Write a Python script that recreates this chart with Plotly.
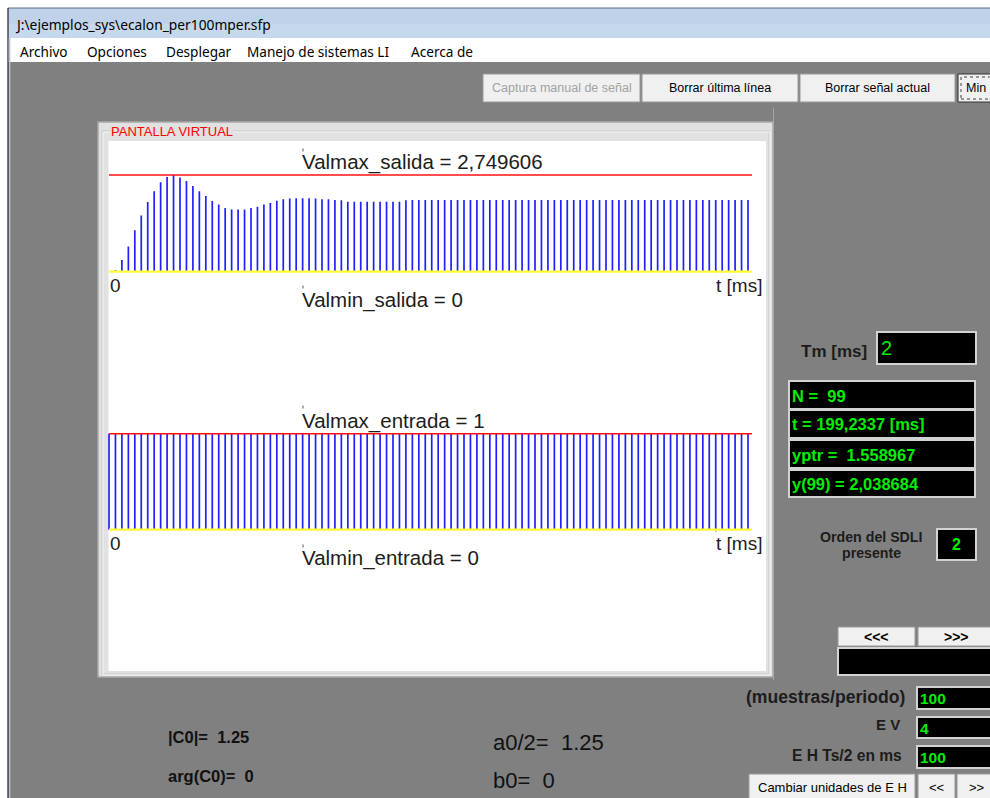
import plotly.graph_objects as go

W, H = 990, 798

# ---- data -------------------------------------------------------------
muestras = list(range(100))  # sample index n

salida = [
    0.0, 0.05, 0.33, 0.72, 1.18, 1.60, 1.98, 2.29, 2.54, 2.69,
    2.749606, 2.68, 2.58, 2.44, 2.29, 2.15, 2.01, 1.91, 1.81, 1.77,
    1.77, 1.77, 1.81, 1.85, 1.91, 1.95, 2.02, 2.06, 2.08, 2.09,
    2.09, 2.09, 2.08, 2.06, 2.06, 2.04, 2.03, 1.99, 1.99, 1.99,
    1.99, 1.99, 1.99, 1.99, 1.99, 1.99, 2.03, 2.04, 2.04, 2.04,
    2.04, 2.04, 2.04, 2.04, 2.04, 2.04, 2.04, 2.04, 2.04, 2.04,
    2.04, 2.04, 2.04, 2.04, 2.04, 2.04, 2.04, 2.04, 2.04, 2.04,
    2.04, 2.04, 2.04, 2.04, 2.04, 2.04, 2.04, 2.04, 2.04, 2.04,
    2.04, 2.04, 2.04, 2.04, 2.04, 2.04, 2.04, 2.04, 2.04, 2.04,
    2.04, 2.04, 2.04, 2.04, 2.04, 2.04, 2.04, 2.04, 2.04, 2.038684,
]

entrada = [
    1, 1, 1, 1, 1, 1, 1, 1, 1, 1,
    1, 1, 1, 1, 1, 1, 1, 1, 1, 1,
    1, 1, 1, 1, 1, 1, 1, 1, 1, 1,
    1, 1, 1, 1, 1, 1, 1, 1, 1, 1,
    1, 1, 1, 1, 1, 1, 1, 1, 1, 1,
    1, 1, 1, 1, 1, 1, 1, 1, 1, 1,
    1, 1, 1, 1, 1, 1, 1, 1, 1, 1,
    1, 1, 1, 1, 1, 1, 1, 1, 1, 1,
    1, 1, 1, 1, 1, 1, 1, 1, 1, 1,
    1, 1, 1, 1, 1, 1, 1, 1, 1, 1,
]

tm_ms = "2"
t_cursor = "199,2337"
yptr = "1.558967"
orden = "2"
muestras_periodo = "100"
ev = "4"
eh = "100"
c0_abs = "1.25"
c0_arg = "0"
a0_half = "1.25"
b0 = "0"

# ---- helpers ----------------------------------------------------------
SANS = "Liberation Sans, Arial, sans-serif"
UI = "Noto Sans, Open Sans, sans-serif"
GREEN = "#00ee00"
DARK = "#1c1c1c"
NB = "\u00a0"

shapes, annotations = [], []


def px(x):
    return x / W


def py(y):
    return 1 - y / H


def rect(x0, y0, x1, y1, fill, line=None, lw=1, dash="solid"):
    shapes.append(dict(
        type="rect", xref="paper", yref="paper", layer="below",
        x0=px(x0), x1=px(x1), y0=py(y1), y1=py(y0), fillcolor=fill,
        line=dict(color=line if line else "rgba(0,0,0,0)",
                  width=lw if line else 0, dash=dash)))


def seg(x0, y0, x1, y1, color, lw=1):
    shapes.append(dict(
        type="line", xref="paper", yref="paper", layer="below",
        x0=px(x0), x1=px(x1), y0=py(y0), y1=py(y1),
        line=dict(color=color, width=lw)))


def text(x, y, s, size=12, color=DARK, xa="left", family=SANS, bold=False, bg=None):
    a = dict(xref="paper", yref="paper", x=px(x), y=py(y), text=s,
             showarrow=False, xanchor=xa, yanchor="middle", borderpad=0,
             font=dict(family=family, size=size, color=color,
                       weight="bold" if bold else "normal"))
    if bg:
        a["bgcolor"] = bg
    annotations.append(a)


def button(x0, y0, x1, y1, label, size=12.5, color="#000000", bold=False):
    rect(x0, y0, x1, y1, "#f0f0f0", "#9a9a9a", 1)
    text((x0 + x1) / 2, (y0 + y1) / 2, label, size=size, color=color, xa="center", bold=bold)


def black_box(x0, y0, x1, y1):
    rect(x0, y0, x1, y1, "#000000", "#d2d2d2", 2)


# ---- window frame -----------------------------------------------------
rect(8, 62, 992, 800, "#808080")
rect(8, 8, 992, 24, "#bfd2ea")
rect(8, 24, 992, 38, "#c6d8ee")
rect(9, 38, 992, 62, "#ffffff")
seg(8, 8, 992, 8, "#5a6a80", 1)
seg(8, 8, 8, 798, "#202020", 1.2)
seg(9.6, 38, 9.6, 798, "#b4c4d8", 1.5)
text(14, 24, r"J:\ejemplos_sys\ecalon_per100mper.sfp", size=13.8, color="#000", family=UI)
for lbl, x in [("Archivo", 19), ("Opciones", 86), ("Desplegar", 165),
               ("Manejo de sistemas LI", 246), ("Acerca de", 410)]:
    text(x, 51, lbl, size=13.6, color="#000", family=UI)

# top buttons
button(483, 74, 640, 102, "Captura manual de señal", color="#a2a2a2")
button(642, 74, 798, 102, "Borrar última línea")
button(800, 74, 955, 102, "Borrar señal actual")
rect(958, 74, 995, 102, "#f0f0f0", "#303030", 1)
rect(961, 77, 995, 99, "rgba(0,0,0,0)", "#404040", 1, dash="dot")
text(965, 88, "Min", size=12.5, color="#000")

# ---- virtual screen panel --------------------------------------------
rect(98, 122, 773, 677, "#e1e1e1", "#a8a8a8", 1.5)
rect(102, 131, 769, 674, "rgba(0,0,0,0)", "#c4c4c4", 1)
rect(103, 132, 770, 675, "rgba(0,0,0,0)", "#f6f6f6", 1)
rect(108.5, 141, 766, 671, "#ffffff")
text(110, 131, "PANTALLA VIRTUAL", size=13, color="#ff0000", bg="#e1e1e1")

# tiny marks on the virtual screen
for (mx, my) in [(303, 150), (303, 287), (303, 407), (303, 546), (716, 271), (716, 530)]:
    rect(mx - 0.5, my - 1.5, mx + 0.5, my + 1.5, "#555555")

# ---- stem plots --------------------------------------------------------
X0_PX, X99_PX, XEND_PX = 109, 748, 752
dx = (X99_PX - X0_PX) / 99.0
x_end = (XEND_PX - X0_PX) / dx
XPAD = 8
x_range = [-XPAD / dx, x_end + XPAD / dx]
x_dom = [px(X0_PX - XPAD), px(XEND_PX + XPAD)]


def y_axis(zero_px, max_px, vmax, pad=6):
    s = (zero_px - max_px) / vmax
    return dict(domain=[py(zero_px + pad), py(max_px - pad)],
                range=[-pad / s, vmax + pad / s])


vmax_sal = max(salida)
vmax_ent = max(entrada)
ya1 = y_axis(271.7, 175.0, vmax_sal)
ya2 = y_axis(529.7, 433.7, vmax_ent)


def stems(xs, ys):
    sx, sy = [], []
    for xv, yv in zip(xs, ys):
        sx += [xv, xv, None]
        sy += [0, yv, None]
    return sx, sy


fig = go.Figure()
for vals, vmax, xa, ya in [(salida, vmax_sal, "x", "y"), (entrada, vmax_ent, "x2", "y2")]:
    sx, sy = stems(muestras, vals)
    fig.add_trace(go.Scatter(x=sx, y=sy, mode="lines", xaxis=xa, yaxis=ya,
                             line=dict(color="#2020ff", width=1.7),
                             hoverinfo="skip", showlegend=False))
    fig.add_trace(go.Scatter(x=[0, x_end], y=[vmax, vmax], mode="lines", xaxis=xa, yaxis=ya,
                             line=dict(color="#ff1010", width=1.4),
                             hoverinfo="skip", showlegend=False))
    fig.add_trace(go.Scatter(x=[0, x_end], y=[0, 0], mode="lines", xaxis=xa, yaxis=ya,
                             line=dict(color="#ffff30", width=2.2),
                             hoverinfo="skip", showlegend=False))


def fmt(v):
    return f"{v:.6f}".rstrip("0").rstrip(".").replace(".", ",")


text(301, 162, f"Valmax_salida = {fmt(vmax_sal)}", size=20.5, color=DARK)
text(109, 285, "0", size=19, color=DARK)
text(763, 285, "t [ms]", size=19, color=DARK, xa="right")
text(301, 300, "Valmin_salida = 0", size=20.5, color=DARK)

text(301, 421, f"Valmax_entrada = {fmt(vmax_ent)}", size=20.5, color=DARK)
text(109, 543, "0", size=19, color=DARK)
text(763, 543, "t [ms]", size=19, color=DARK, xa="right")
text(301, 558, "Valmin_entrada = 0", size=20.5, color=DARK)

# ---- right-hand panel -------------------------------------------------
seg(773.5, 108, 773.5, 680, "#a6a6a6", 1)
text(868, 351, "Tm [ms]", size=17, color=DARK, xa="right", bold=True)
black_box(877, 332, 976, 364)
text(880, 348, tm_ms, size=20, color=GREEN)

box_rows = [
    (381, 409, f"N ={NB}{NB}{len(salida) - 1}"),
    (410, 438, f"t = {t_cursor} [ms]"),
    (440, 468, f"yptr ={NB}{NB}{yptr}"),
    (470, 497, f"y({len(salida) - 1}) = {fmt(salida[-1])}"),
]
for y0, y1, s in box_rows:
    black_box(789, y0, 975, y1)
for y0, y1, s in box_rows:
    text(791, (y0 + y1) / 2 + 0.5, s, size=16.5, color=GREEN, bold=True)

text(871, 537, "Orden del SDLI", size=14.2, color=DARK, xa="center", bold=True)
text(871, 553, "presente", size=14.2, color=DARK, xa="center", bold=True)
black_box(937, 529, 976, 560)
text(956.5, 544.5, orden, size=16, color=GREEN, xa="center", bold=True)

button(838, 627, 915, 646, "&lt;&lt;&lt;", size=14, bold=True)
button(918, 627, 995, 646, "&gt;&gt;&gt;", size=14, bold=True)
black_box(838, 648, 995, 675)

text(906, 697, "(muestras/periodo)", size=17.6, color=DARK, xa="right", bold=True)
black_box(917, 687, 995, 709)
text(919, 698.5, muestras_periodo, size=15.5, color=GREEN, bold=True)

text(901, 724, "E V", size=15, color=DARK, xa="right", bold=True)
black_box(917, 717, 995, 738)
text(919, 728, ev, size=15.5, color=GREEN, bold=True)

text(903, 755, "E H Ts/2 en ms", size=15.6, color=DARK, xa="right", bold=True)
black_box(917, 746, 995, 768)
text(919, 757.5, eh, size=15.5, color=GREEN, bold=True)

button(749, 774, 915, 800, "Cambiar unidades de E H", size=13)
button(918, 774, 955, 800, "&lt;&lt;", size=13)
button(957, 774, 995, 800, "&gt;&gt;", size=13)

# ---- Fourier coefficient readouts ------------------------------------
text(167, 737, f"|C0|={NB}{NB}{c0_abs}", size=16.5, color="#111111", bold=True)
text(167, 776, f"arg(C0)={NB}{NB}{c0_arg}", size=16.5, color="#111111", bold=True)
text(492, 742, f"a0/2={NB}{NB}{a0_half}", size=22, color="#111111")
text(492, 780, f"b0={NB}{NB}{b0}", size=22, color="#111111")

# ---- layout -----------------------------------------------------------
ax_common = dict(visible=False, fixedrange=True, showgrid=False, zeroline=False)
fig.update_layout(
    width=W, height=H, margin=dict(l=0, r=0, t=0, b=0, pad=0),
    paper_bgcolor="#ffffff", plot_bgcolor="rgba(0,0,0,0)",
    showlegend=False,
    xaxis=dict(domain=x_dom, range=x_range, anchor="y", **ax_common),
    yaxis=dict(domain=ya1["domain"], range=ya1["range"], anchor="x", **ax_common),
    xaxis2=dict(domain=x_dom, range=x_range, anchor="y2", **ax_common),
    yaxis2=dict(domain=ya2["domain"], range=ya2["range"], anchor="x2", **ax_common),
    shapes=shapes, annotations=annotations,
)

fig.write_html("out.html", config=dict(displayModeBar=False))
